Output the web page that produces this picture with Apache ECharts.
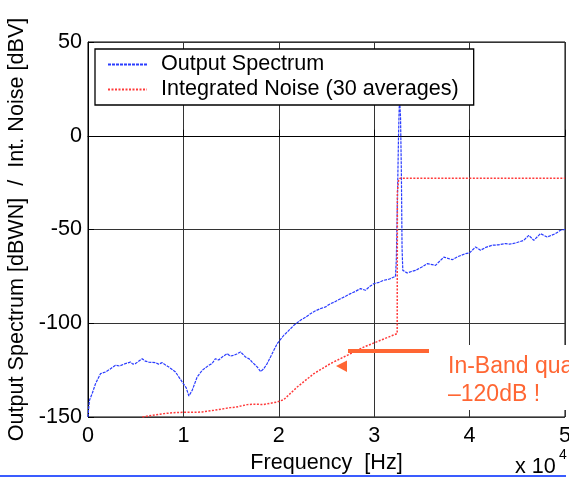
<!DOCTYPE html>
<html><head><meta charset="utf-8">
<script src="https://cdn.jsdelivr.net/npm/echarts@6/dist/echarts.min.js"></script>
<style>html,body{margin:0;padding:0;background:#fff}#c{width:569px;height:477px}</style>
</head><body><div id="c"></div>
<script>
// x values in units of 1e4 Hz
const specX = [0.000,0.008,0.016,0.044,0.079,0.131,0.183,0.23,0.288,0.33,0.393,0.445,0.47,0.498,0.568,0.60,0.637,0.708,0.74,0.778,0.81,0.847,0.917,0.987,1.03,1.057,1.092,1.144,1.197,1.23,1.267,1.30,1.336,1.37,1.407,1.459,1.49,1.529,1.56,1.599,1.651,1.69,1.721,1.773,1.81,1.843,1.878,1.913,1.948,1.983,2.0,2.053,2.088,2.158,2.227,2.28,2.332,2.38,2.437,2.49,2.542,2.58,2.647,2.70,2.752,2.80,2.856,2.909,2.95,2.996,3.05,3.1,3.16,3.223,3.232,3.245,3.255,3.262,3.268,3.276,3.285,3.292,3.30,3.31,3.346,3.39,3.433,3.50,3.556,3.643,3.73,3.818,3.88,3.957,4.0,4.062,4.114,4.17,4.237,4.30,4.376,4.42,4.481,4.568,4.62,4.673,4.743,4.813,4.9,4.953,5.0];
const specY = [-150,-145,-141,-137.5,-132.2,-126.9,-126,-124.5,-122.4,-122.8,-121.5,-120.7,-121.8,-121.5,-118.9,-120.2,-120.7,-121,-121.8,-121,-122.2,-123.3,-126,-131.3,-134.5,-138.8,-135.8,-128.7,-125.1,-123.8,-122.4,-121.5,-118.9,-119.6,-118,-116.2,-117.5,-117.1,-116.4,-115.3,-118,-119,-120.7,-123.3,-125.8,-124.2,-121.5,-118,-114.4,-110.9,-110,-106.4,-104.7,-101.1,-98.4,-96.8,-94.9,-93.5,-92.2,-91.3,-89.5,-88.8,-86.9,-85.6,-84.2,-83.1,-81.5,-82.4,-80.5,-78.9,-78.2,-77.1,-76.4,-75,-66,-30,0,15,17.5,10,-20,-60,-71.8,-72.6,-73.2,-72.4,-71.8,-70,-68.2,-69.1,-64.7,-66.1,-64.4,-62.9,-62.5,-59.3,-61.1,-59.5,-58.4,-58.2,-57.5,-57.8,-57.2,-55.8,-53.1,-55.8,-52.2,-54,-52.2,-50.4,-50];
const noiseX = [0.57,0.673,0.795,0.9,0.987,1.144,1.197,1.319,1.371,1.494,1.546,1.669,1.721,1.843,1.983,2.053,2.193,2.367,2.542,2.717,2.891,3.066,3.241,3.243,3.255,3.27,5.0];
const noiseY = [-150,-149.1,-148.2,-147.7,-147.5,-147.5,-147.3,-146.4,-146,-145,-144.8,-143.4,-143.2,-143.3,-142,-140.7,-134,-126.9,-121.5,-117.1,-112.7,-109.1,-105.5,-30,-24,-22.7,-22.7];
const seriesNames = ['Output Spectrum', 'Integrated Noise (30 averages)'];
const xTicks = {min: 0, max: 5, interval: 1};
const yTicks = {min: -150, max: 50, interval: 50};
const xAxisName = 'Frequency  [Hz]';
const yAxisName = 'Output Spectrum [dBWN]  /  Int. Noise [dBV]';
const annotationLines = ['In-Band quantization noise', '\u2013120dB !'];

const FONT = "'Liberation Sans', Arial, sans-serif";
const FS = 21.6;
const ORANGE = '#ff6633';
const zip = (xs, ys) => xs.map((x, i) => [x, ys[i]]);

const chart = echarts.init(document.getElementById('c'), null, {renderer: 'canvas'});
chart.setOption({
  animation: false,
  backgroundColor: '#fff',
  textStyle: {fontFamily: FONT},
  grid: {left: 88, top: 42, right: 4, bottom: 60, containLabel: false, outerBoundsMode: 'none',
         show: true, borderColor: '#000', borderWidth: 1},
  legend: {
    data: seriesNames, orient: 'vertical', left: 95, top: 49,
    padding: [3, 15, 3, 12], itemGap: 0, itemWidth: 39, itemHeight: 14,
    borderColor: '#000', borderWidth: 1.3, backgroundColor: '#fff',
    itemStyle: {opacity: 0},
    textStyle: {fontFamily: FONT, fontSize: FS, color: '#000', lineHeight: 25, padding: [0, 0, 0, 9]}
  },
  xAxis: {
    type: 'value', min: xTicks.min, max: xTicks.max, interval: xTicks.interval,
    name: xAxisName, nameLocation: 'middle', nameGap: 30,
    nameTextStyle: {fontFamily: FONT, fontSize: FS, color: '#000'},
    axisLine: {lineStyle: {color: '#000', width: 1}},
    axisTick: {inside: true, length: 6, lineStyle: {color: '#000'}},
    axisLabel: {fontFamily: FONT, fontSize: FS, color: '#000', margin: 8},
    splitLine: {show: true, lineStyle: {color: '#333', width: 1}}
  },
  yAxis: {
    type: 'value', min: yTicks.min, max: yTicks.max, interval: yTicks.interval,
    name: yAxisName, nameLocation: 'middle', nameGap: 60,
    nameTextStyle: {fontFamily: FONT, fontSize: FS, color: '#000'},
    axisLine: {lineStyle: {color: '#000', width: 1}},
    axisTick: {inside: true, length: 6, lineStyle: {color: '#000'}},
    axisLabel: {fontFamily: FONT, fontSize: FS, color: '#000', margin: 6},
    splitLine: {show: true, lineStyle: {color: '#333', width: 1}}
  },
  series: [
    {name: seriesNames[0], type: 'line', data: zip(specX, specY), symbol: 'none', z: 3,
     lineStyle: {color: '#2a3cff', width: 1.2, type: [3, 1]}, itemStyle: {color: '#2a3cff'}},
    {name: seriesNames[1], type: 'line', data: zip(noiseX, noiseY), symbol: 'none', z: 4,
     lineStyle: {color: '#ff3a3a', width: 1.5, type: [2, 1.5]}, itemStyle: {color: '#ff3a3a'}}
  ],
  graphic: [
    {type: 'rect', z: 100, shape: {x: 436, y: 345, width: 140, height: 65}, style: {fill: '#fff'}},
    {type: 'line', z: 101, shape: {x1: 348, y1: 351, x2: 429, y2: 351}, style: {stroke: ORANGE, lineWidth: 4}},
    {type: 'polygon', z: 101, shape: {points: [[336, 366], [347, 360.5], [347, 372]]}, style: {fill: ORANGE}},
    {type: 'text', z: 101, x: 448, y: 367, style: {text: annotationLines[0], font: '23px ' + FONT, fill: ORANGE, verticalAlign: 'middle'}},
    {type: 'text', z: 101, x: 448, y: 394.5, style: {text: annotationLines[1], font: '23px ' + FONT, fill: ORANGE, verticalAlign: 'middle'}},
    {type: 'text', z: 101, x: 515, y: 467, style: {text: 'x 10', font: FS + 'px ' + FONT, fill: '#000', verticalAlign: 'middle'}},
    {type: 'text', z: 101, x: 559, y: 455, style: {text: '4', font: '14px ' + FONT, fill: '#000', verticalAlign: 'middle'}},
    {type: 'line', z: 101, shape: {x1: 0, y1: 476, x2: 566, y2: 476}, style: {stroke: '#3a5cff', lineWidth: 2}}
  ]
});
</script></body></html>
